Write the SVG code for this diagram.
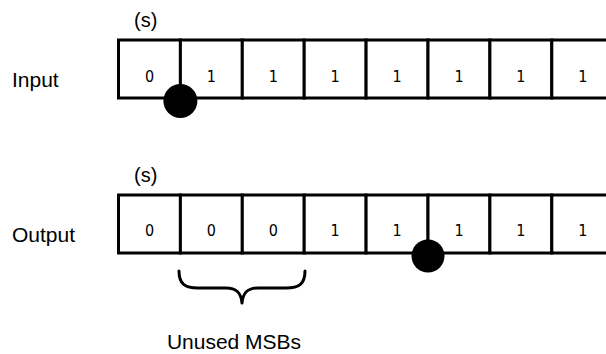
<svg xmlns="http://www.w3.org/2000/svg" width="606" height="354" viewBox="0 0 606 354">
  <style>
    .cell { fill: #ffffff; stroke: #000000; stroke-width: 3; }
    .bit { font-family: "Liberation Sans Narrow", "DejaVu Sans Condensed", "Liberation Sans", sans-serif; font-size: 16px; fill: #000000; text-anchor: middle; }
    .label { font-family: "Liberation Sans", Arial, sans-serif; font-size: 21px; fill: #000000; }
    .sign { font-family: "Liberation Sans", Arial, sans-serif; font-size: 20px; fill: #000000; }
    .dot { fill: #000000; }
    .brace { fill: none; stroke: #000000; stroke-width: 3; stroke-linecap: round; stroke-linejoin: round; }
  </style>
  <rect width="606" height="354" fill="#ffffff"/>

  <!-- row labels -->
  <g id="label-input"><text class="label" x="12" y="87">Input</text></g>
  <g id="label-output"><text class="label" x="12" y="242">Output</text></g>
  <g id="sign-input"><text class="sign" x="134" y="27">(s)</text></g>
  <g id="sign-output"><text class="sign" x="134" y="182">(s)</text></g>

  <!-- input register -->
  <g id="input-row">
    <g id="in-0"><rect class="cell" x="118.5" y="40" width="61.9" height="58"/><text class="bit" x="149.5" y="82">0</text></g>
    <g id="in-1"><rect class="cell" x="180.4" y="40" width="61.9" height="58"/><text class="bit" x="211.4" y="82">1</text></g>
    <g id="in-2"><rect class="cell" x="242.3" y="40" width="61.9" height="58"/><text class="bit" x="273.3" y="82">1</text></g>
    <g id="in-3"><rect class="cell" x="304.2" y="40" width="61.9" height="58"/><text class="bit" x="335.2" y="82">1</text></g>
    <g id="in-4"><rect class="cell" x="366.1" y="40" width="61.9" height="58"/><text class="bit" x="397.1" y="82">1</text></g>
    <g id="in-5"><rect class="cell" x="428" y="40" width="61.9" height="58"/><text class="bit" x="459" y="82">1</text></g>
    <g id="in-6"><rect class="cell" x="489.9" y="40" width="61.9" height="58"/><text class="bit" x="520.9" y="82">1</text></g>
    <g id="in-7"><rect class="cell" x="551.8" y="40" width="61.9" height="58"/><text class="bit" x="582.8" y="82">1</text></g>
  </g>

  <!-- output register -->
  <g id="output-row">
    <g id="out-0"><rect class="cell" x="118.5" y="195" width="61.9" height="58"/><text class="bit" x="149.5" y="236">0</text></g>
    <g id="out-1"><rect class="cell" x="180.4" y="195" width="61.9" height="58"/><text class="bit" x="211.4" y="236">0</text></g>
    <g id="out-2"><rect class="cell" x="242.3" y="195" width="61.9" height="58"/><text class="bit" x="273.3" y="236">0</text></g>
    <g id="out-3"><rect class="cell" x="304.2" y="195" width="61.9" height="58"/><text class="bit" x="335.2" y="236">1</text></g>
    <g id="out-4"><rect class="cell" x="366.1" y="195" width="61.9" height="58"/><text class="bit" x="397.1" y="236">1</text></g>
    <g id="out-5"><rect class="cell" x="428" y="195" width="61.9" height="58"/><text class="bit" x="459" y="236">1</text></g>
    <g id="out-6"><rect class="cell" x="489.9" y="195" width="61.9" height="58"/><text class="bit" x="520.9" y="236">1</text></g>
    <g id="out-7"><rect class="cell" x="551.8" y="195" width="61.9" height="58"/><text class="bit" x="582.8" y="236">1</text></g>
  </g>

  <!-- binary point markers -->
  <g id="point-input"><circle class="dot" cx="180.4" cy="101" r="17"/></g>
  <g id="point-output"><circle class="dot" cx="428" cy="256" r="16.5"/></g>

  <!-- brace under the unused high bits -->
  <g id="connectors">
    <path class="brace" d="M179,271 C179,284 185,288 198,288 L226,288 C236,288 241,292 242,303 C243,292 248,288 258,288 L286,288 C299,288 305,284 305,271"/>
  </g>
  <g id="label-unused"><text class="label" x="234" y="349" text-anchor="middle">Unused MSBs</text></g>
</svg>
